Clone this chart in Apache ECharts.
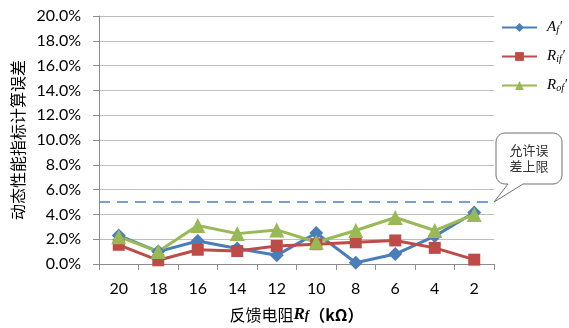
<!DOCTYPE html>
<html>
<head>
<meta charset="utf-8">
<script src="https://cdn.jsdelivr.net/npm/echarts@6/dist/echarts.min.js"></script>
<style>
  html, body { margin: 0; padding: 0; background: #fff; }
  #chart { width: 569px; height: 328px; }
</style>
</head>
<body>
<div id="chart"></div>
<script>
// Feedback resistance Rf (kΩ) on the category axis
const categories = ['20', '18', '16', '14', '12', '10', '8', '6', '4', '2'];
// Calculation error of each dynamic performance index, in percent
const afErr  = [2.3, 1.0, 1.85, 1.25, 0.7, 2.5, 0.1, 0.8, 2.25, 4.15];
const rifErr = [1.55, 0.3, 1.15, 1.05, 1.45, 1.6, 1.75, 1.9, 1.3, 0.35];
const rofErr = [2.2, 1.0, 3.1, 2.45, 2.75, 1.75, 2.7, 3.75, 2.7, 4.0];
// Allowed error upper limit, in percent
const errLimit = 5;
const yTicks = { min: 0, max: 20, interval: 2 };

const seriesNames = ['Af', 'Rif', 'Rof'];
const legendRich = {
  m: { fontFamily: 'Liberation Serif', fontStyle: 'italic', fontSize: 15, color: '#000' },
  s: { fontFamily: 'Liberation Serif', fontStyle: 'italic', fontSize: 10, color: '#000', verticalAlign: 'bottom', padding: [5, 0, 0, 0] },
  p: { fontFamily: 'Liberation Serif', fontStyle: 'italic', fontSize: 14, color: '#000' }
};
function legendLabel(name) {
  return '{m|' + name[0] + '}{s|' + name.slice(1) + '}{p|′}';
}

const chart = echarts.init(document.getElementById('chart'), null, { renderer: 'canvas' });

function lineSeries(name, data, color, symbol, size) {
  return {
    name: name,
    type: 'line',
    data: data,
    symbol: symbol,
    symbolSize: size,
    lineStyle: { color: color, width: 3 },
    itemStyle: { color: color },
    emphasis: { disabled: true },
    animation: false,
    z: 3
  };
}

const series = [
  lineSeries(seriesNames[0], afErr, '#4a7ebb', 'diamond', 14),
  lineSeries(seriesNames[1], rifErr, '#be4b48', 'rect', 12),
  lineSeries(seriesNames[2], rofErr, '#98b954', 'triangle', 15)
];
series[0].markLine = {
  silent: true,
  symbol: 'none',
  animation: false,
  label: { show: false },
  lineStyle: { color: '#4f81bd', type: [11, 7], width: 1.5 },
  data: [{ yAxis: errLimit }]
};

chart.setOption({
  animation: false,
  grid: { left: 99, right: 75, top: 16, bottom: 64, containLabel: false, outerBoundsMode: 'none' },
  legend: {
    orient: 'vertical',
    left: 496,
    top: 15,
    itemWidth: 35,
    itemHeight: 11,
    itemGap: 14,
    data: seriesNames,
    formatter: legendLabel,
    textStyle: { rich: legendRich, padding: [0, 0, 0, 5] }
  },
  xAxis: {
    type: 'category',
    data: categories,
    boundaryGap: true,
    axisLine: { lineStyle: { color: '#8c8c8c', width: 1 } },
    axisTick: { show: true, length: 6, lineStyle: { color: '#8c8c8c' } },
    axisLabel: { fontFamily: 'Lato', fontSize: 16, color: '#000', margin: 17 },
    name: '反馈电阻{r|R}{f|f}{u|（kΩ）}',
    nameLocation: 'middle',
    nameGap: 42,
    nameTextStyle: {
      fontFamily: 'Noto Sans CJK SC',
      fontSize: 16,
      color: '#000',
      rich: {
        r: { fontFamily: 'Liberation Serif', fontStyle: 'italic', fontWeight: 'bold', fontSize: 17, color: '#000' },
        f: { fontFamily: 'Liberation Serif', fontStyle: 'italic', fontWeight: 'bold', fontSize: 13, color: '#000', padding: [3, 0, 0, 0] },
        u: { fontFamily: 'Noto Sans CJK SC', fontWeight: 'bold', fontSize: 16, color: '#000' }
      }
    }
  },
  yAxis: {
    type: 'value',
    min: yTicks.min,
    max: yTicks.max,
    interval: yTicks.interval,
    axisLine: { show: true, lineStyle: { color: '#8c8c8c', width: 1 } },
    axisTick: { show: true, length: 6, lineStyle: { color: '#8c8c8c' } },
    splitLine: { lineStyle: { color: '#bdbdbd', width: 1 } },
    axisLabel: {
      fontFamily: 'Lato',
      fontSize: 16,
      color: '#000',
      margin: 18,
      formatter: v => v.toFixed(1) + '%'
    },
    name: '动态性能指标计算误差',
    nameLocation: 'middle',
    nameRotate: 90,
    nameGap: 71,
    nameTextStyle: { fontFamily: 'Noto Sans CJK SC', fontSize: 16, color: '#000' }
  },
  series: series
});

// Callout attached to the right end of the allowed-limit line
const tip = chart.convertToPixel({ gridIndex: 0 }, [categories.length - 1, errLimit]);
const gridRight = 569 - 75;
const ax = gridRight + 2, ay = tip[1];
const bx0 = ax, bx1 = ax + 66, by0 = ay - 69, by1 = ay - 18, r = 9;

function arc(cx, cy, a0, a1, pts) {
  const n = 6;
  for (let i = 0; i <= n; i++) {
    const a = a0 + (a1 - a0) * i / n;
    pts.push([cx + r * Math.cos(a), cy + r * Math.sin(a)]);
  }
}
const outline = [];
arc(bx0 + r, by0 + r, Math.PI, Math.PI * 1.5, outline);       // top-left
arc(bx1 - r, by0 + r, Math.PI * 1.5, Math.PI * 2, outline);   // top-right
arc(bx1 - r, by1 - r, 0, Math.PI * 0.5, outline);             // bottom-right
outline.push([bx0 + 27, by1]);
outline.push([ax - 2, ay]);
outline.push([bx0 + 12, by1]);
arc(bx0 + r, by1 - r, Math.PI * 0.5, Math.PI, outline);       // bottom-left

chart.setOption({
  graphic: [
    {
      type: 'polygon',
      shape: { points: outline },
      style: { fill: '#fff', stroke: '#6e6e6e', lineWidth: 1 },
      z: 10
    },
    {
      type: 'text',
      x: (bx0 + bx1) / 2,
      y: (by0 + by1) / 2,
      style: {
        text: '允许误\n差上限',
        fontFamily: 'Noto Sans CJK SC',
        fontSize: 13,
        lineHeight: 16,
        fill: '#333',
        align: 'center',
        verticalAlign: 'middle'
      },
      z: 11
    }
  ]
});
</script>
</body>
</html>
